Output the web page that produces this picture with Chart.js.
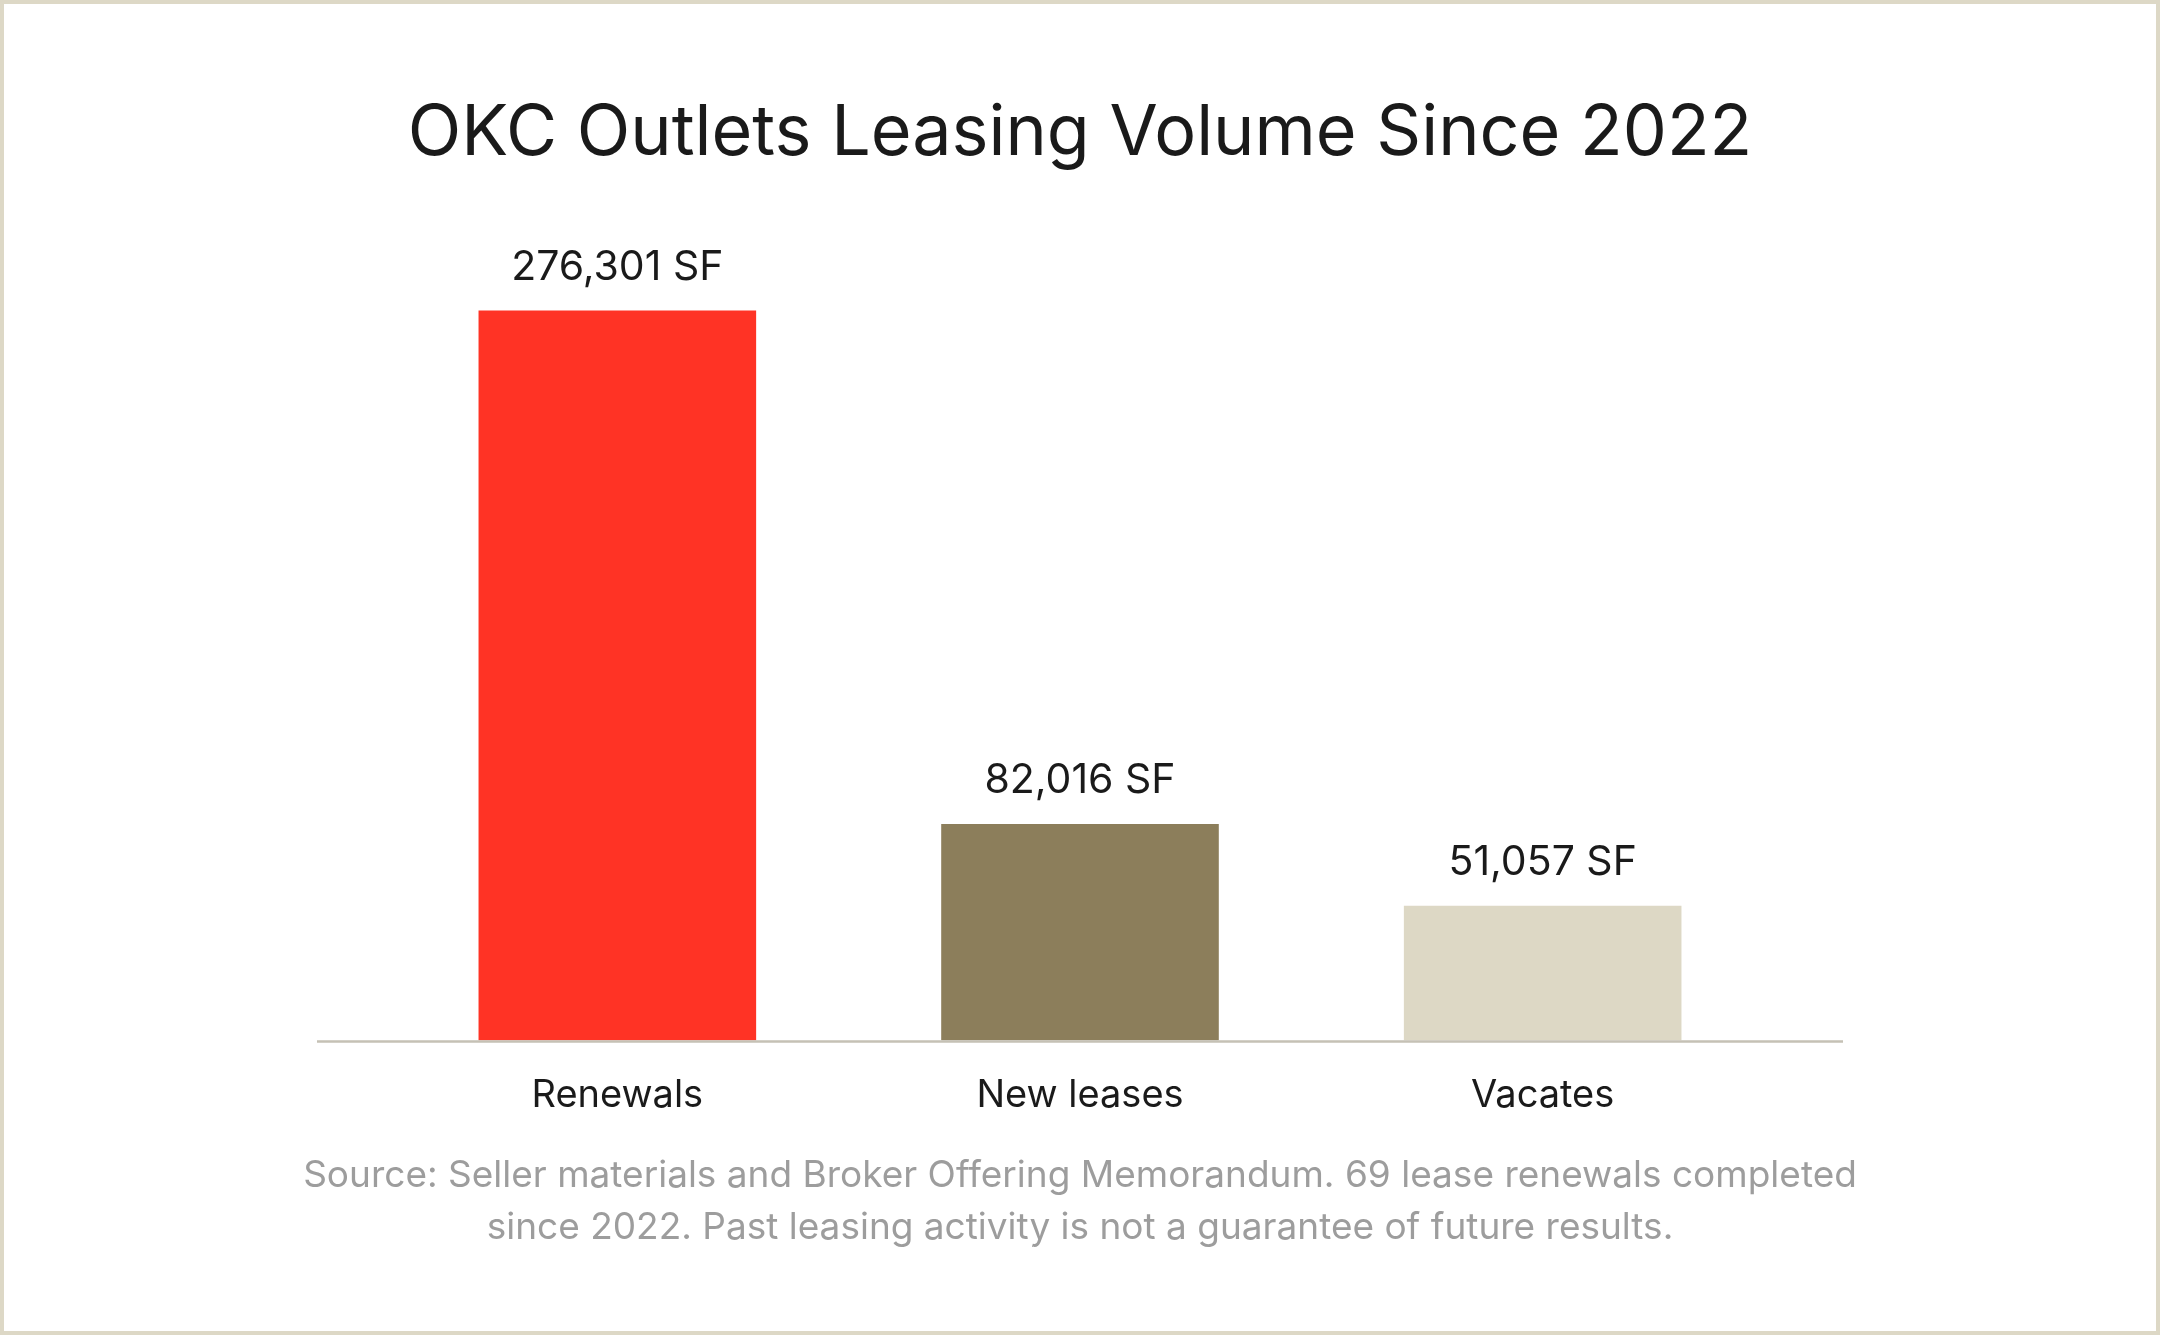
<!DOCTYPE html>
<html lang="en">

<head>
    <meta charset="UTF-8">
    <title>OKC Outlets Leasing Volume Since 2022</title>
    <script src="https://cdn.jsdelivr.net/npm/chart.js"></script>
    <style>
        html, body {
            margin: 0;
            padding: 0;
            background: #ffffff;
        }
        .frame {
            position: relative;
            width: 2160px;
            height: 1335px;
            box-sizing: border-box;
            border: 4px solid #ddd8c6;
        }
        .frame canvas {
            position: absolute;
            left: -4px;
            top: -4px;
        }
    </style>
</head>

<body>
    <div class="frame">
        <canvas id="leasingChart" width="2160" height="1335"></canvas>
    </div>

    <script>
        // Chart data
        const categories = ['Renewals', 'New leases', 'Vacates'];
        const squareFeet = [276301, 82016, 51057];
        const barColors = ['#ff3325', '#8c7e5b', '#ddd8c5'];
        const sourceLines = [
            'Source: Seller materials and Broker Offering Memorandum. 69 lease renewals completed',
            'since 2022. Past leasing activity is not a guarantee of future results.'
        ];

        const fontFamily = 'Inter, "Noto Sans", sans-serif';

        // Value labels above each bar ("276,301 SF")
        const valueLabels = {
            id: 'valueLabels',
            afterDatasetsDraw(chart) {
                const ctx = chart.ctx;
                const meta = chart.getDatasetMeta(0);
                ctx.save();
                ctx.font = `400 41px ${fontFamily}`;
                ctx.fillStyle = '#1a1a1a';
                ctx.textAlign = 'center';
                ctx.textBaseline = 'middle';
                meta.data.forEach((bar, i) => {
                    const text = squareFeet[i].toLocaleString('en-US') + ' SF';
                    ctx.fillText(text, bar.x, bar.y - 43);
                });
                ctx.restore();
            }
        };

        // Baseline that runs a little past the outer bars
        const baseline = {
            id: 'baseline',
            afterDatasetsDraw(chart) {
                const ctx = chart.ctx;
                const area = chart.chartArea;
                const y = chart.scales.y.getPixelForValue(0) + 1;
                ctx.save();
                ctx.strokeStyle = '#c5c1b5';
                ctx.lineWidth = 2.5;
                ctx.beginPath();
                ctx.moveTo(area.left - 69, y);
                ctx.lineTo(area.right + 69, y);
                ctx.stroke();
                ctx.restore();
            }
        };

        // Source note under the category labels (wider than the plot area)
        const sourceNote = {
            id: 'sourceNote',
            afterDraw(chart) {
                const ctx = chart.ctx;
                const top = chart.scales.x.bottom;
                const lineHeight = 52.4;
                ctx.save();
                ctx.font = `400 37px ${fontFamily}`;
                ctx.fillStyle = '#9d9d9d';
                ctx.textAlign = 'center';
                ctx.textBaseline = 'middle';
                sourceLines.forEach((line, i) => {
                    ctx.fillText(line, chart.width / 2, top + lineHeight * (i + 0.5) - 1);
                });
                ctx.restore();
            }
        };

        new Chart(document.getElementById('leasingChart'), {
            type: 'bar',
            data: {
                labels: categories,
                datasets: [{
                    label: 'Leasing volume (SF)',
                    data: squareFeet,
                    backgroundColor: barColors,
                    borderWidth: 0,
                    categoryPercentage: 1.0,
                    barPercentage: 0.6
                }]
            },
            options: {
                responsive: false,
                animation: false,
                devicePixelRatio: 1,
                layout: {
                    padding: { left: 386, right: 386, top: 0, bottom: 184.3 }
                },
                scales: {
                    x: {
                        grid: { display: false, drawTicks: false, tickLength: 0 },
                        border: { display: false },
                        ticks: {
                            padding: 32.25,
                            color: '#1a1a1a',
                            font: { family: fontFamily, size: 38, weight: '400', lineHeight: 1.2 }
                        }
                    },
                    y: {
                        display: false,
                        min: 0,
                        max: 300000
                    }
                },
                plugins: {
                    legend: { display: false },
                    tooltip: { enabled: false },
                    title: {
                        display: true,
                        text: 'OKC Outlets Leasing Volume Since 2022',
                        color: '#1a1a1a',
                        font: { family: fontFamily, size: 70, weight: '400', lineHeight: 1.2 },
                        padding: { top: 92, bottom: 72 }
                    }
                }
            },
            plugins: [valueLabels, baseline, sourceNote]
        });
    </script>
</body>

</html>
